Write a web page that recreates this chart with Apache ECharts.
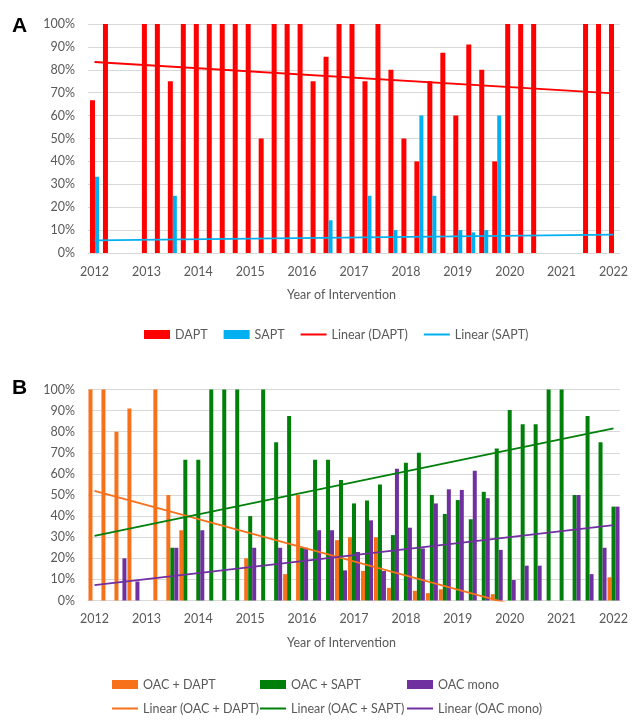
<!DOCTYPE html>
<html>
<head>
<meta charset="utf-8">
<script src="https://cdn.jsdelivr.net/npm/echarts@6/dist/echarts.min.js"></script>
<style>
html,body{margin:0;padding:0;background:#fff;}
#chart{width:639px;height:721px;}
</style>
</head>
<body>
<div id="chart"></div>
<script>
// Categories: quarters 2012 Q1 .. 2022 Q1
const years = ['2012','2013','2014','2015','2016','2017','2018','2019','2020','2021','2022'];
const categories = [];
years.forEach(function (y) {
  ['Q1','Q2','Q3','Q4'].forEach(function (q) {
    if (categories.length < 41) categories.push(y + ' ' + q);
  });
});

// Panel A
const dapt = [66.7,100,null,null,100,100,75,100,100,100,100,100,100,50,100,100,100,75,85.7,100,100,75,100,80,50,40,75,87.5,60,91,80,40,100,100,100,null,null,null,100,100,100];
const sapt = [33.3,null,null,null,null,null,25,null,null,null,null,null,null,null,null,null,null,null,14.3,null,null,25,null,10,null,60,25,null,10,9,10,60,null,null,null,null,null,null,null,null,null];
const trendDaptEnds = [83.4, 69.7];
const trendSaptEnds = [5.5, 8.0];

// Panel B
const oacDapt = [100,100,80,91,null,100,50,33.3,null,null,null,null,20,null,null,12.5,50,null,null,28.6,30,14,30,6,null,4.6,3.5,5.3,null,null,null,3,null,null,null,null,null,null,null,null,11];
const oacSapt = [null,null,null,null,null,null,25,66.7,66.7,100,100,100,40,100,75,87.5,25,66.7,66.7,57.1,46,47.4,55,31,65.3,70,50,41,47.6,38.5,51.5,72,90.3,83.5,83.5,100,100,50,87.5,75,44.5];
const oacMono = [null,null,20,9,null,null,25,null,33.3,null,null,null,25,null,25,null,25,33.3,33.3,14.3,23,38,14,62.5,34.5,24.7,46,52.7,52.4,61.5,48.5,24,9.7,16.5,16.5,null,null,50,12.5,25,44.5];
const trendOacDaptEnds = [51.9, -14.9];
const trendOacSaptEnds = [30.6, 81.6];
const trendOacMonoEnds = [7.3, 35.7];

function endsToSeries(ends) {
  const arr = categories.map(function () { return null; });
  arr[0] = ends[0];
  arr[arr.length - 1] = ends[1];
  return arr;
}

const FONT = 'Lato';
const GRAY = '#595959';
const GRID_LINE = '#d9d9d9';
const LINE_ICON = 'path://M0,0H26V2H0Z';

function xAxis(gridIndex) {
  return {
    type: 'category', gridIndex: gridIndex, data: categories, boundaryGap: true,
    axisLine: { show: true, lineStyle: { color: GRID_LINE, width: 1 } },
    axisTick: { show: false },
    axisLabel: { interval: 3, margin: 12, color: GRAY, fontFamily: FONT, fontSize: 12.5,
      formatter: function (v) { return v.slice(0, 4); } }
  };
}
function yAxis(gridIndex) {
  return {
    type: 'value', gridIndex: gridIndex, min: 0, max: 100, interval: 10,
    axisLine: { show: false }, axisTick: { show: false },
    axisLabel: { margin: 13, color: GRAY, fontFamily: FONT, fontSize: 12.5, formatter: '{value}%' },
    splitLine: { lineStyle: { color: GRID_LINE, width: 1 } }
  };
}
function bar(name, data, color, width, gi) {
  return { name: name, type: 'bar', data: data, xAxisIndex: gi, yAxisIndex: gi,
    barWidth: width, barGap: '0%', itemStyle: { color: color }, animation: false };
}
function trend(name, ends, color, gi) {
  return { name: name, type: 'line', data: endsToSeries(ends), xAxisIndex: gi, yAxisIndex: gi,
    connectNulls: true, symbol: 'none', clip: true, z: 5,
    lineStyle: { color: color, width: 1.8 }, itemStyle: { color: color }, animation: false };
}

const RED = '#ff0000', BLUE = '#00b0f0';
const ORANGE = '#f7711b', GREEN = '#00800a', PURPLE = '#7030a0';

const legendText = { color: GRAY, fontFamily: FONT, fontSize: 12.5 };

const option = {
  backgroundColor: '#fff',
  animation: false,
  grid: [
    { left: 88, top: 24, width: 532, height: 229 },
    { left: 88, top: 389.5, width: 532, height: 211 }
  ],
  xAxis: [xAxis(0), xAxis(1)],
  yAxis: [yAxis(0), yAxis(1)],
  legend: [
    { left: 139, top: 323, itemWidth: 26, itemHeight: 9, itemGap: 16, textStyle: legendText, symbolKeepAspect: true,
      data: [{ name: 'DAPT', icon: 'rect' }, { name: 'SAPT', icon: 'rect' },
             { name: 'Linear (DAPT)', icon: LINE_ICON }, { name: 'Linear (SAPT)', icon: LINE_ICON }] },
    { left: 107, top: 673, orient: 'vertical', itemWidth: 26, itemHeight: 9, itemGap: 11, textStyle: legendText, symbolKeepAspect: true,
      data: [{ name: 'OAC + DAPT', icon: 'rect' }, { name: 'Linear (OAC + DAPT)', icon: LINE_ICON }] },
    { left: 255, top: 673, orient: 'vertical', itemWidth: 26, itemHeight: 9, itemGap: 11, textStyle: legendText, symbolKeepAspect: true,
      data: [{ name: 'OAC + SAPT', icon: 'rect' }, { name: 'Linear (OAC + SAPT)', icon: LINE_ICON }] },
    { left: 402, top: 673, orient: 'vertical', itemWidth: 26, itemHeight: 9, itemGap: 11, textStyle: legendText, symbolKeepAspect: true,
      data: [{ name: 'OAC mono', icon: 'rect' }, { name: 'Linear (OAC mono)', icon: LINE_ICON }] }
  ],
  graphic: [
    { type: 'text', left: 12, top: 16, style: { text: 'A', fontFamily: 'Liberation Sans', fontWeight: 'bold', fontSize: 21, fill: '#000' } },
    { type: 'text', left: 12, top: 378, style: { text: 'B', fontFamily: 'Liberation Sans', fontWeight: 'bold', fontSize: 21, fill: '#000' } },
    { type: 'text', x: 341.5, y: 295, style: { text: 'Year of Intervention', fontFamily: FONT, fontSize: 12.5, fill: GRAY, textAlign: 'center', textVerticalAlign: 'middle' } },
    { type: 'text', x: 341.5, y: 643, style: { text: 'Year of Intervention', fontFamily: FONT, fontSize: 12.5, fill: GRAY, textAlign: 'center', textVerticalAlign: 'middle' } }
  ],
  series: [
    bar('DAPT', dapt, RED, 5, 0),
    bar('SAPT', sapt, BLUE, 4, 0),
    trend('Linear (DAPT)', trendDaptEnds, RED, 0),
    trend('Linear (SAPT)', trendSaptEnds, BLUE, 0),
    bar('OAC + DAPT', oacDapt, ORANGE, 4, 1),
    bar('OAC + SAPT', oacSapt, GREEN, 4, 1),
    bar('OAC mono', oacMono, PURPLE, 4, 1),
    trend('Linear (OAC + DAPT)', trendOacDaptEnds, ORANGE, 1),
    trend('Linear (OAC + SAPT)', trendOacSaptEnds, GREEN, 1),
    trend('Linear (OAC mono)', trendOacMonoEnds, PURPLE, 1)
  ]
};

const chart = echarts.init(document.getElementById('chart'), null, { renderer: 'canvas' });
chart.setOption(option);
</script>
</body>
</html>
